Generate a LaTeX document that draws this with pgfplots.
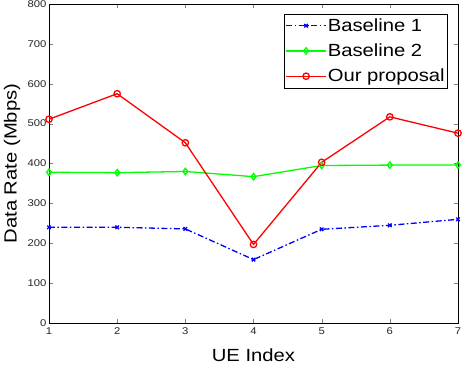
\documentclass[border=0pt]{standalone}
\usepackage{pgfplots}
\pgfplotsset{compat=1.18}
\usepackage{fontspec}
\setmainfont{Liberation Sans}[FakeStretch=1.15]
\begin{document}
\begin{tikzpicture}
\begin{axis}[
  scale only axis,
  width=409pt, height=319pt,
  xmin=1, xmax=7, ymin=0, ymax=800,
  xtick={1,...,7}, ytick={0,100,...,800},
  tick align=inside, tick pos=both,
  major tick length=4pt,
  /pgf/number format/assume math mode=true,
  tick label style={font=\fontsize{9.8}{11}\selectfont, text=black!85},
  xticklabel style={yshift=-1pt},
  yticklabel style={xshift=1pt},
  xlabel={UE Index}, ylabel={Data Rate (Mbps)},
  label style={font=\fontsize{17.6}{20}\selectfont},
  xlabel style={at={(axis description cs:0.5,0)}, anchor=center, yshift=-32pt},
  ylabel style={at={(axis description cs:0,0.5)}, anchor=center, yshift=37pt},
  legend style={at={(0.973,0.969)}, anchor=north east, font=\fontsize{17.6}{20}\selectfont,
    draw=black, inner xsep=1pt, inner ysep=3.5pt, row sep=9pt,
    nodes={inner sep=1pt}},
  legend cell align=left,
  legend image code/.code={\draw[line width=1.3pt, mark repeat=2,mark phase=2] plot coordinates {(0pt,0pt) (20pt,0pt) (40pt,0pt)};},
]
\addplot[line width=1.3pt, blue, dash pattern=on 6pt off 2.5pt on 1.5pt off 2.5pt, mark=x, mark size=2.5pt, mark options={solid}] coordinates {
(1,240) (2,240) (3,236) (4,159) (5,235) (6,245) (7,260)};
\addlegendentry{Baseline 1}
\addplot[line width=1.3pt, green, mark=diamond, mark size=3.2pt] coordinates {
(1,378) (2,377) (3,380) (4,367) (5,395) (6,396) (7,396)};
\addlegendentry{Baseline 2}
\addplot[line width=1.3pt, red, mark=o, mark size=3.2pt] coordinates {
(1,511) (2,575) (3,452) (4,197) (5,403) (6,517) (7,476)};
\addlegendentry{Our proposal}
\end{axis}
\pgfresetboundingbox
\path ([xshift=-49pt,yshift=-43pt]current axis.south west) rectangle ([xshift=4pt,yshift=4pt]current axis.north east);
\end{tikzpicture}
\end{document}
